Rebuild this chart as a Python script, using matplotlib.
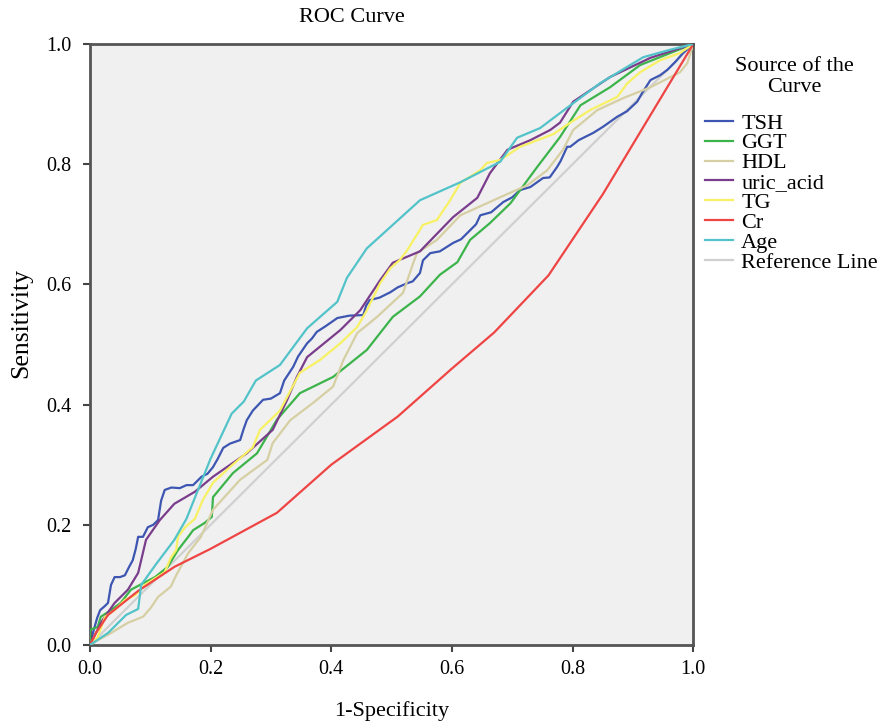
import matplotlib
matplotlib.use("Agg")
import matplotlib.pyplot as plt

plt.rcParams['font.family'] = ['Liberation Serif', 'DejaVu Serif']

### curve values (1-specificity, sensitivity)
tsh_x = [0, 0.005, 0.012, 0.017, 0.025, 0.03, 0.035, 0.041, 0.05, 0.058, 0.065, 0.071, 0.076, 0.08, 0.088,
         0.096, 0.105, 0.113, 0.118, 0.124, 0.135, 0.149, 0.16, 0.171, 0.185, 0.195, 0.204, 0.212, 0.221,
         0.232, 0.249, 0.255, 0.26, 0.27, 0.287, 0.3, 0.315, 0.322, 0.337, 0.345, 0.36, 0.368, 0.376, 0.39,
         0.41, 0.43, 0.453, 0.458, 0.464, 0.48, 0.498, 0.51, 0.526, 0.535, 0.547, 0.552, 0.564, 0.58,
         0.602, 0.615, 0.63, 0.64, 0.647, 0.665, 0.685, 0.7, 0.713, 0.73, 0.751, 0.762, 0.774, 0.78,
         0.791, 0.796, 0.81, 0.834, 0.85, 0.874, 0.89, 0.907, 0.915, 0.929, 0.945, 0.957, 0.97, 0.983, 1.0]
tsh_y = [0, 0.02, 0.045, 0.058, 0.065, 0.07, 0.1, 0.113, 0.113, 0.116, 0.13, 0.141, 0.16, 0.18, 0.18,
         0.196, 0.2, 0.208, 0.24, 0.258, 0.262, 0.261, 0.266, 0.266, 0.28, 0.285, 0.296, 0.31, 0.328,
         0.335, 0.341, 0.36, 0.374, 0.39, 0.408, 0.41, 0.419, 0.44, 0.463, 0.48, 0.502, 0.51, 0.521, 0.53,
         0.544, 0.548, 0.549, 0.565, 0.574, 0.578, 0.587, 0.595, 0.602, 0.605, 0.619, 0.64, 0.652, 0.655,
         0.669, 0.675, 0.69, 0.7, 0.715, 0.72, 0.737, 0.745, 0.757, 0.762, 0.777, 0.778, 0.795, 0.805,
         0.829, 0.829, 0.84, 0.852, 0.862, 0.879, 0.888, 0.904, 0.918, 0.94, 0.948, 0.957, 0.97, 0.985, 1.0]

ggt_x = [0, 0.0, 0.013, 0.018, 0.035, 0.051, 0.068, 0.083, 0.108, 0.129, 0.146, 0.163, 0.171, 0.19,
         0.202, 0.204, 0.237, 0.277, 0.31, 0.348, 0.403, 0.459, 0.502, 0.547, 0.58, 0.609, 0.63, 0.663,
         0.697, 0.741, 0.779, 0.813, 0.862, 0.912, 0.967, 1.0]
ggt_y = [0, 0.025, 0.03, 0.047, 0.058, 0.07, 0.092, 0.1, 0.113, 0.13, 0.158, 0.18, 0.191, 0.203,
         0.213, 0.246, 0.286, 0.319, 0.375, 0.419, 0.446, 0.491, 0.546, 0.58, 0.616, 0.637, 0.674, 0.702,
         0.735, 0.795, 0.845, 0.898, 0.928, 0.965, 0.987, 1.0]

hdl_x = [0, 0.013, 0.03, 0.063, 0.088, 0.101, 0.113, 0.134, 0.143, 0.163, 0.184, 0.204, 0.249, 0.294,
         0.303, 0.332, 0.37, 0.403, 0.42, 0.443, 0.476, 0.519, 0.536, 0.542, 0.575, 0.614, 0.68, 0.725,
         0.758, 0.784, 0.801, 0.841, 0.884, 0.929, 0.978, 0.99, 1.0]
hdl_y = [0, 0.008, 0.017, 0.037, 0.047, 0.062, 0.08, 0.097, 0.116, 0.153, 0.18, 0.225, 0.275, 0.308,
         0.336, 0.374, 0.403, 0.43, 0.474, 0.519, 0.546, 0.586, 0.636, 0.652, 0.674, 0.715, 0.745, 0.765,
         0.79, 0.824, 0.857, 0.89, 0.91, 0.928, 0.953, 0.968, 1.0]

uric_x = [0, 0.02, 0.041, 0.063, 0.08, 0.093, 0.116, 0.14, 0.174, 0.204, 0.26, 0.303, 0.327, 0.343,
          0.36, 0.415, 0.448, 0.481, 0.502, 0.547, 0.602, 0.642, 0.663, 0.692, 0.73, 0.763, 0.779, 0.801,
          0.862, 0.929, 1.0]
uric_y = [0, 0.04, 0.07, 0.092, 0.12, 0.175, 0.208, 0.235, 0.255, 0.28, 0.319, 0.358, 0.408, 0.446,
          0.479, 0.524, 0.557, 0.607, 0.636, 0.655, 0.712, 0.744, 0.785, 0.824, 0.84, 0.857, 0.869, 0.904,
          0.945, 0.977, 1.0]

tg_x = [0, 0.013, 0.025, 0.041, 0.058, 0.075, 0.091, 0.108, 0.124, 0.134, 0.143, 0.146, 0.158, 0.174,
        0.187, 0.204, 0.232, 0.27, 0.282, 0.315, 0.348, 0.381, 0.415, 0.443, 0.459, 0.481, 0.498, 0.514,
        0.526, 0.552, 0.575, 0.597, 0.614, 0.647, 0.658, 0.68, 0.713, 0.768, 0.796, 0.829, 0.874, 0.891,
        0.912, 0.945, 0.978, 1.0]
tg_y = [0, 0.013, 0.047, 0.058, 0.075, 0.083, 0.1, 0.111, 0.121, 0.145, 0.158, 0.18, 0.196, 0.21,
        0.241, 0.27, 0.296, 0.329, 0.358, 0.39, 0.453, 0.474, 0.502, 0.529, 0.557, 0.602, 0.627, 0.641,
        0.657, 0.699, 0.707, 0.74, 0.769, 0.79, 0.802, 0.807, 0.829, 0.85, 0.869, 0.89, 0.912, 0.935,
        0.953, 0.973, 0.985, 1.0]

cr_x = [0, 0.01, 0.03, 0.08, 0.14, 0.2, 0.31, 0.4, 0.51, 0.6, 0.67, 0.76, 0.85, 0.91, 1.0]
cr_y = [0, 0.02, 0.05, 0.09, 0.13, 0.16, 0.22, 0.3, 0.38, 0.46, 0.52, 0.615, 0.75, 0.85, 1.0]

age_x = [0, 0.03, 0.06, 0.08, 0.085, 0.11, 0.14, 0.16, 0.2, 0.235, 0.255, 0.275, 0.315, 0.36, 0.41,
         0.426, 0.459, 0.547, 0.614, 0.68, 0.708, 0.746, 0.791, 0.846, 0.917, 0.96, 1.0]
age_y = [0, 0.02, 0.05, 0.06, 0.1, 0.135, 0.175, 0.21, 0.31, 0.385, 0.405, 0.44, 0.466, 0.527, 0.571,
         0.611, 0.66, 0.74, 0.77, 0.804, 0.844, 0.86, 0.894, 0.935, 0.978, 0.99, 1.0]

ref_x = [0, 1]
ref_y = [0, 1]

curves = [
    ('TSH', tsh_x, tsh_y, '#3d56b2'),
    ('GGT', ggt_x, ggt_y, '#3cb44b'),
    ('HDL', hdl_x, hdl_y, '#d6cfa3'),
    ('uric_acid', uric_x, uric_y, '#7a3d8c'),
    ('TG', tg_x, tg_y, '#f7f163'),
    ('Cr', cr_x, cr_y, '#ef4444'),
    ('Age', age_x, age_y, '#52c3c9'),
    ('Reference Line', ref_x, ref_y, '#d0d0d0'),
]

fig = plt.figure(figsize=(8.9, 7.21), dpi=100)
ax = fig.add_axes([0.101, 0.1054, 0.678, 0.8336])
ax.set_facecolor('#f0f0f0')

# reference line drawn underneath the others
for i, (name, xs, ys, col) in enumerate(curves):
    z = 1 if name == 'Reference Line' else 2 + i
    ax.plot(xs, ys, color=col, lw=1.6, label=name, zorder=z)

ax.set_xlim(0, 1)
ax.set_ylim(0, 1)
ticks = [0.0, 0.2, 0.4, 0.6, 0.8, 1.0]
ax.set_xticks(ticks)
ax.set_yticks(ticks)
ax.set_xticklabels(['%.1f' % t for t in ticks])
ax.set_yticklabels(['%.1f' % t for t in ticks])
ax.tick_params(direction='out', length=5, width=1.5, color='#444444', labelsize=14.5)
ax.tick_params(axis='y', pad=8)
ax.tick_params(axis='x', pad=6)
for s in ax.spines.values():
    s.set_linewidth(2)
    s.set_color('#555555')

# SPSS puts the title a bit left of the plot centre
fig.text(352 / 890, 1 - 18 / 721, 'ROC Curve', fontsize=16, ha='center', va='center')
ax.set_xlabel('1-Specificity', fontsize=16, labelpad=16)
ax.set_ylabel('Sensitivity', fontsize=18.5)
ax.yaxis.set_label_coords(-0.095, 0.536)

# legend title as separate text so it can sit further from the entries
fig.text(0.893, 1 - 77 / 721, 'Source of the\nCurve', fontsize=16, ha='center', va='center',
         multialignment='center', linespacing=1.1)
leg = ax.legend(loc='upper left', bbox_to_anchor=(705 / 890, 1 - 113 / 721),
                bbox_transform=fig.transFigure, frameon=False, fontsize=16,
                handlelength=1.27, handletextpad=0.36, labelspacing=-0.03,
                borderpad=0, borderaxespad=0.0)

fig.savefig('out.png', dpi=100)
